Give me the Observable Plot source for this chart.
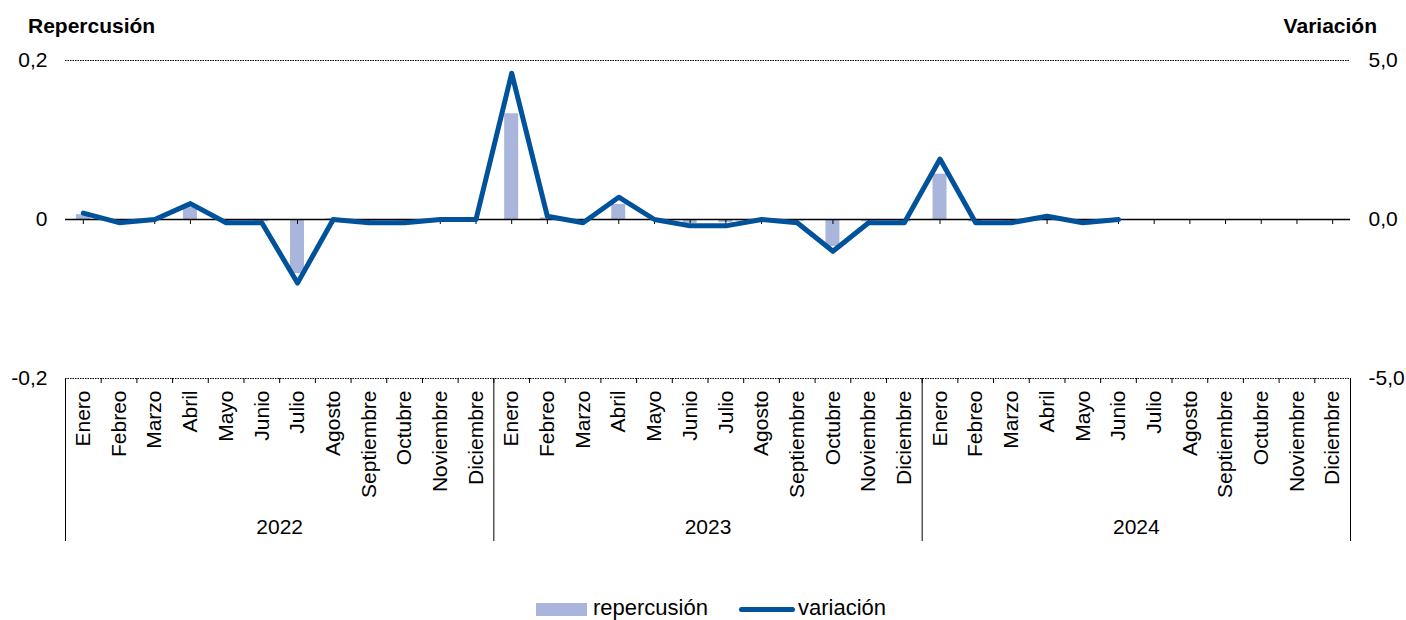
<!DOCTYPE html>
<html><head><meta charset="utf-8">
<script src="https://cdn.jsdelivr.net/npm/d3@7"></script>
<script src="https://cdn.jsdelivr.net/npm/@observablehq/plot@0.6"></script>
<style>
body{margin:0;background:#fff;font-family:"Liberation Sans",Arial,sans-serif;color:#000;}
#wrap{position:relative;width:1406px;height:620px;overflow:hidden;}
#chart{position:absolute;left:0;top:0;}
.ttl{position:absolute;top:13px;font-weight:bold;font-size:21px;line-height:26px;}
.lg{position:absolute;font-size:22px;line-height:24px;}
.sw{position:absolute;}
</style></head>
<body>
<div id="wrap">
  <div id="chart"></div>
  <div class="ttl" style="left:28px">Repercusión</div>
  <div class="ttl" style="right:29px">Variación</div>
  <div class="sw" style="left:536px;top:603px;width:51px;height:13px;background:#a9b5db"></div>
  <div class="lg" style="left:593px;top:596px">repercusión</div>
  <div class="sw" style="left:739px;top:607px;width:56px;height:5px;border-radius:3px;background:#00529b"></div>
  <div class="lg" style="left:798px;top:596px">variación</div>
</div>
<script>
const years = ["2022", "2023", "2024"];
const months = ["Enero","Febreo","Marzo","Abril","Mayo","Junio","Julio","Agosto","Septiembre","Octubre","Noviembre","Diciembre"];
const repercusion = [
  0.006, -0.002, 0.001, 0.015, -0.003, -0.003, -0.068, 0.001, -0.002, -0.002, 0.0, 0.0,
  0.133, 0.002, -0.003, 0.019, 0.0, -0.005, -0.004, 0.0, -0.002, -0.034, -0.003, -0.003,
  0.057, -0.003, -0.003, 0.003, -0.003, 0.0, null, null, null, null, null, null
];
const variacion = [
  0.2, -0.1, 0.0, 0.5, -0.1, -0.1, -2.0, 0.0, -0.1, -0.1, 0.0, 0.0,
  4.6, 0.1, -0.1, 0.7, 0.0, -0.2, -0.2, 0.0, -0.1, -1.0, -0.1, -0.1,
  1.9, -0.1, -0.1, 0.1, -0.1, 0.0, null, null, null, null, null, null
];
const leftTicks = [-0.2, 0, 0.2];
const rightTicks = [-5, 0, 5];

const keys = [];
years.forEach(y => months.forEach(m => keys.push(y + "|" + m)));
const data = keys.map((k, i) => ({key: k, rep: repercusion[i], vari: variacion[i]}));

const W = 1406, H = 580, mL = 65, mR = 56, mT = 60, mB = H - 378;
const step = (W - mL - mR) / keys.length;
const barInset = (step - 14) / 2;
const K = 0.2 / 5; // right axis -> left axis units
const fmt = (v) => v.toFixed(1).replace(".", ",");
const firstKeys = years.map(y => y + "|" + months[0]);
const midKeys = years.map(y => y + "|" + months[6]);
const lastKey = keys[keys.length - 1];

const chart = Plot.plot({
  width: W, height: H,
  marginLeft: mL, marginRight: mR, marginTop: mT, marginBottom: mB,
  style: {fontFamily: "'Liberation Sans', Arial, sans-serif", fontSize: "21px", color: "#000", background: "#fff", overflow: "visible"},
  x: {type: "band", domain: keys, padding: 0, round: false},
  y: {domain: [-0.2, 0.2]},
  marks: [
    Plot.ruleY([0.2, -0.2], {stroke: "#000", strokeWidth: 1, strokeDasharray: "1.5,1"}),
    Plot.barY(data.filter(d => d.rep != null), {x: "key", y: "rep", fill: "#a9b5db", insetLeft: barInset, insetRight: barInset}),
    Plot.ruleY([0], {stroke: "#000", strokeWidth: 1.3}),
    Plot.ruleX(keys, {x: d => d, y1: 0, y2: 0, insetBottom: -5, stroke: "#000", strokeWidth: 1}),
    Plot.ruleX(keys, {x: d => d, y1: -0.2, y2: -0.2, insetBottom: -5, dx: -step / 2, stroke: "#000", strokeWidth: 1}),
    Plot.ruleX(firstKeys, {x: d => d, y1: -0.2, y2: -0.2, insetBottom: -163, dx: -step / 2, stroke: "#000", strokeWidth: 1}),
    Plot.ruleX([lastKey], {x: d => d, y1: -0.2, y2: -0.2, insetBottom: -163, dx: step / 2, stroke: "#000", strokeWidth: 1}),
    Plot.text(midKeys, {x: d => d, y: -0.2, dx: -step / 2, dy: 149, text: d => d.split("|")[0], fontSize: 21, fill: "#000"}),
    Plot.lineY(data.filter(d => d.vari != null), {x: "key", y: d => d.vari * K, stroke: "#00529b", strokeWidth: 5, strokeLinejoin: "round"}),
    Plot.axisX({anchor: "bottom", tickSize: 0, tickPadding: 12, tickRotate: -90, tickFormat: d => d.split("|")[1], label: null, fontSize: 21}),
    Plot.axisY(leftTicks, {anchor: "left", tickSize: 0, tickPadding: 18, tickFormat: d => d === 0 ? "0" : fmt(d), label: null, fontSize: 21}),
    Plot.axisY(rightTicks.map(v => v * K), {anchor: "right", tickSize: 0, tickPadding: 18, tickFormat: d => fmt(Math.round(d / K * 10) / 10), label: null, fontSize: 21, textAnchor: "start"})
  ]
});
document.getElementById("chart").appendChild(chart);
</script>
</body></html>
